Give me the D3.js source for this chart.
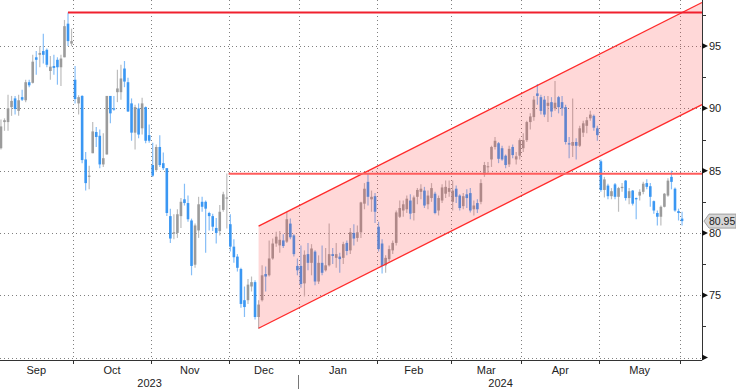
<!DOCTYPE html>
<html>
<head>
<meta charset="utf-8">
<script src="https://cdn.jsdelivr.net/npm/d3@7"></script>
<style>
  html, body { margin: 0; padding: 0; background: #fff; }
  svg { display: block; font-family: "Liberation Sans", Arial, sans-serif; }
</style>
</head>
<body>
<div id="wrap"></div>
<script>
// trading days: weekdays from firstDay to lastDay, minus exchange holidays
const firstDay = "2023-09-01";
const lastDay = "2024-06-03";
const holidays = ["2023-12-25", "2024-01-01", "2024-03-29"];

// daily OHLC, one value per trading day
const open = [
  86.8, 88.9, 88.9, 90.1, 90.8, 89.8, 90.9, 90.65, 92.1, 92.05, 94.1, 94.3, 94.6, 94.7, 93.0, 93.4, 93.9, 93.3, 94.1, 96.8, 95.2, // Sep
  92.3, 90.4, 91.0, 85.9, 84.5, 86.4, 88.1, 87.8, 85.5, 86.3, 91.0, 90.0, 91.3, 91.3, 93.2, 92.1, 90.4, 88.05, 90.0, 88.4, 90.1, 87.85, // Oct
  85.45, 85.05, 86.9, 85.6, 85.2, 81.35, 79.95, 80.0, 81.35, 82.7, 82.4, 81.0, 77.45, 80.2, 82.5, 82.5, 81.6, 81.35, 80.4, 80.15, 81.85, 82.75, // Nov
  80.7, 78.9, 78.1, 77.1, 74.6, 74.6, 75.7, 76.05, 73.25, 74.6, 76.7, 76.6, 77.95, 79.15, 79.0, 79.4, 79.3, 80.75, 79.8, 77.35, // Dec
  77.35, 75.95, 78.3, 77.6, 78.5, 76.1, 77.6, 77.0, 77.4, 78.3, 78.0, 78.1, 78.0, 79.2, 78.6, 80.0, 79.6, 80.05, 82.35, 84.1, 82.7, 82.95, // Jan
  80.5, 79.15, 77.4, 77.9, 78.6, 79.2, 81.3, 81.8, 81.9, 82.6, 81.6, 82.9, 83.3, 83.4, 82.3, 82.8, 83.15, 81.8, 82.6, 83.15, 83.3, // Feb
  82.5, 83.55, 83.0, 82.15, 83.1, 83.2, 81.9, 82.4, 82.5, 84.7, 85.3, 85.9, 86.9, 87.2, 86.8, 86.2, 85.5, 86.9, 85.9, 86.2, // Mar
  86.8, 87.45, 88.9, 89.3, 91.2, 90.9, 90.7, 90.2, 90.5, 90.0, 90.9, 90.5, 90.1, 87.2, 87.0, 87.3, 87.0, 88.05, 88.6, 89.2, 89.4, 88.4, // Apr
  85.75, 83.45, 83.8, 82.95, 83.9, 82.9, 83.6, 84.2, 82.8, 83.4, 82.8, 83.0, 83.3, 84.0, 83.75, 82.55, 81.6, 81.3, 82.1, 83.0, 84.5, 83.55, 81.75, // May
  81.15 // Jun
];
const high = [
  89.1, 89.2, 91.1, 91.0, 91.0, 91.1, 91.5, 92.3, 92.3, 94.3, 94.6, 95.0, 96.0, 94.8, 94.2, 94.3, 94.1, 94.3, 97.1, 97.7, 96.4,
  93.4, 91.05, 91.05, 86.5, 85.4, 88.9, 88.5, 88.3, 88.0, 91.0, 91.0, 91.0, 93.1, 93.5, 93.8, 92.45, 90.8, 90.3, 90.4, 90.85, 90.15, 88.7,
  87.25, 87.1, 87.85, 86.45, 85.2, 81.95, 81.5, 81.9, 82.8, 83.95, 83.0, 81.15, 80.75, 82.9, 82.9, 82.6, 81.7, 81.55, 81.2, 82.25, 83.3, 84.78,
  81.5, 79.5, 78.3, 77.2, 75.7, 76.3, 76.5, 76.2, 74.6, 77.4, 77.3, 79.4, 79.55, 80.1, 80.15, 79.9, 81.7, 81.15, 79.9, 77.95,
  79.0, 78.6, 79.2, 79.1, 78.6, 78.2, 79.0, 78.8, 80.75, 78.8, 79.2, 78.4, 79.3, 79.4, 80.4, 80.7, 80.6, 82.5, 84.0, 84.8, 83.4, 83.2,
  80.9, 79.5, 78.2, 79.0, 79.4, 81.8, 82.6, 82.6, 83.0, 83.1, 83.0, 83.6, 83.9, 83.7, 83.4, 84.0, 83.3, 83.0, 83.9, 84.2, 84.2,
  84.2, 83.8, 83.1, 83.2, 83.5, 83.6, 82.6, 82.7, 84.3, 85.7, 85.7, 87.0, 87.7, 87.3, 87.0, 86.3, 87.0, 87.1, 86.5, 87.6,
  88.0, 89.0, 89.6, 91.0, 91.95, 91.1, 91.0, 91.0, 90.9, 92.2, 91.0, 91.0, 90.3, 87.7, 90.8, 87.6, 88.6, 89.0, 89.3, 89.8, 89.5, 88.6,
  85.9, 84.5, 83.95, 83.6, 84.0, 83.7, 84.0, 84.25, 83.6, 83.45, 82.85, 83.5, 84.1, 84.3, 84.0, 82.6, 81.8, 82.2, 83.2, 84.4, 85.0, 83.65, 81.95,
  81.7
];
const low = [
  86.7, 88.2, 88.2, 89.4, 89.5, 89.4, 90.6, 90.5, 91.7, 92.0, 92.7, 93.3, 93.6, 93.3, 92.3, 92.7, 91.9, 91.8, 94.1, 95.0, 95.0,
  90.4, 89.5, 85.6, 83.4, 83.5, 86.4, 86.9, 85.2, 85.3, 86.3, 88.8, 89.8, 90.5, 90.7, 91.7, 89.7, 87.4, 86.7, 87.6, 87.9, 87.2, 87.25,
  84.5, 84.9, 85.3, 85.05, 81.35, 79.2, 79.5, 79.6, 80.4, 82.2, 80.9, 76.6, 77.2, 79.6, 81.7, 78.4, 80.2, 80.15, 79.15, 79.8, 81.7, 80.35,
  78.5, 77.6, 76.9, 74.0, 73.25, 74.3, 75.3, 73.05, 72.3, 74.5, 75.3, 76.5, 77.85, 78.9, 78.4, 78.8, 79.2, 79.5, 78.1, 76.6,
  75.6, 74.9, 77.0, 76.6, 75.8, 75.9, 76.6, 76.9, 77.3, 77.5, 77.2, 76.8, 77.5, 78.2, 78.3, 79.0, 79.3, 79.6, 81.9, 82.2, 81.7, 80.8,
  78.5, 76.75, 76.8, 77.7, 78.3, 79.0, 81.2, 81.3, 81.6, 81.1, 81.0, 82.3, 82.7, 82.0, 81.9, 82.5, 81.5, 81.4, 82.4, 82.8, 82.9,
  81.8, 82.4, 81.8, 81.9, 82.0, 81.65, 81.4, 81.6, 82.3, 84.5, 84.8, 85.3, 86.7, 85.6, 85.8, 85.2, 85.3, 86.0, 85.5, 85.9,
  86.5, 87.3, 88.3, 89.0, 90.3, 89.5, 89.3, 88.9, 89.3, 89.8, 89.6, 89.4, 87.1, 86.0, 86.1, 85.9, 86.9, 87.7, 88.0, 89.0, 88.2, 87.4,
  83.3, 82.85, 82.7, 82.7, 82.7, 81.7, 83.3, 82.6, 82.3, 82.2, 81.1, 82.6, 83.1, 83.5, 82.1, 81.55, 80.6, 80.6, 82.05, 82.9, 83.5, 81.7, 81.0,
  80.6
];
const close = [
  88.55, 89.05, 90.0, 90.6, 89.95, 90.65, 90.7, 92.1, 91.85, 93.75, 93.9, 94.45, 94.3, 93.5, 93.35, 93.25, 93.3, 94.0, 96.6, 95.4, 95.4,
  90.75, 90.9, 85.85, 84.0, 84.6, 88.15, 87.7, 85.5, 86.0, 91.0, 89.6, 89.9, 91.6, 92.4, 92.15, 89.75, 88.05, 90.1, 87.9, 90.4, 87.4, 87.4,
  84.6, 86.9, 85.45, 85.2, 81.6, 79.55, 80.05, 81.5, 82.5, 82.4, 81.1, 77.35, 80.6, 82.3, 82.1, 81.95, 81.35, 80.5, 80.0, 81.7, 83.1, 82.85,
  78.9, 78.05, 77.2, 74.3, 74.05, 75.85, 76.05, 73.25, 74.25, 76.6, 76.5, 77.95, 79.15, 79.7, 79.45, 78.95, 81.1, 79.65, 78.3, 77.0,
  75.9, 78.25, 77.6, 78.75, 76.1, 77.6, 76.8, 77.4, 78.3, 78.15, 78.3, 77.9, 79.1, 78.55, 80.05, 79.55, 80.05, 82.45, 83.55, 82.9, 82.9, 81.7,
  78.7, 77.35, 78.0, 78.7, 79.2, 81.65, 82.0, 82.3, 82.75, 81.55, 82.85, 83.45, 83.55, 82.2, 83.0, 83.6, 81.6, 82.8, 83.65, 83.7, 83.6,
  83.4, 82.9, 82.0, 82.95, 82.8, 81.8, 82.2, 81.9, 84.0, 85.45, 85.35, 86.9, 87.4, 85.95, 85.9, 85.45, 86.75, 86.25, 86.15, 87.45,
  87.45, 88.9, 89.35, 90.7, 91.0, 89.8, 89.5, 90.45, 89.75, 90.45, 90.1, 90.0, 87.3, 87.1, 87.3, 87.0, 88.4, 88.8, 89.05, 89.5, 88.45, 87.85,
  83.45, 84.3, 82.95, 83.35, 82.9, 83.6, 83.7, 82.8, 83.35, 82.35, 82.7, 83.3, 83.95, 83.7, 82.9, 81.8, 81.3, 82.1, 83.15, 84.2, 84.1, 81.8, 81.6,
  80.95
];

const yTicks = [75, 80, 85, 90, 95];
const yMinorTicks = [72.5, 77.5, 82.5, 87.5, 92.5, 97.5];
const lastPrice = 80.95;

// horizontal resistance lines: start (trading-day index) and level
const levelStart = [19.5, 65];
const levelValue = [97.7, 84.75];
// rising channel: two points (trading-day index) for the lower and upper edge
const channelX = [73.5, 199.15];
const channelLow = [72.35, 90.3];
const channelHigh = [80.55, 98.5];

const width = 736;
const height = 389;
const plotRight = 702;
const axisY = 360;

const parse = d3.timeParse("%Y-%m-%d");
const fmt = d3.timeFormat("%Y-%m-%d");
const days = d3.timeDay.range(parse(firstDay), d3.timeDay.offset(parse(lastDay), 1))
  .filter(d => d.getDay() % 6 !== 0 && !holidays.includes(fmt(d)));
const data = days.map((d, i) => ({ date: d, o: open[i], h: high[i], l: low[i], c: close[i] }));

let svg = d3.select("#wrap")
  .append("svg")
  .attr("width", width)
  .attr("height", height);

// x: trading-day index, y: price
const xScale = d3.scaleLinear().domain([0, 199.15]).range([-0.8, plotRight]);
const yScale = d3.scaleLinear().domain([70, 98.7]).range([357.5, 0]);

// month boundaries
let monthStart = [];
data.forEach((d, i) => {
  if (i > 0 && d.date.getMonth() !== data[i - 1].date.getMonth()) monthStart.push(i);
});

// grid
const grid = svg.append("g")
  .attr("stroke", "#808080")
  .attr("stroke-width", 1)
  .attr("stroke-dasharray", "1,3");
grid.selectAll("line.h")
  .data([70].concat(yTicks))
  .enter()
  .append("line")
  .attr("x1", 0)
  .attr("x2", plotRight)
  .attr("y1", d => Math.round(yScale(d)) + 0.5)
  .attr("y2", d => Math.round(yScale(d)) + 0.5);
grid.selectAll("line.v")
  .data(monthStart)
  .enter()
  .append("line")
  .attr("x1", d => Math.round(xScale(d)) + 0.5)
  .attr("x2", d => Math.round(xScale(d)) + 0.5)
  .attr("y1", 0)
  .attr("y2", axisY);

// candles
const upBody = "#9b9b9b", upWick = "#bdbdbd";
const downBody = "#3a97f3", downWick = "#86bef7";
const candles = svg.append("g");
candles.selectAll("line")
  .data(data)
  .enter()
  .append("line")
  .attr("x1", (d, i) => xScale(i + 0.5))
  .attr("x2", (d, i) => xScale(i + 0.5))
  .attr("y1", d => yScale(d.h))
  .attr("y2", d => yScale(d.l))
  .attr("stroke", d => d.c >= d.o ? upWick : downWick)
  .attr("stroke-width", 1.2);
candles.selectAll("rect")
  .data(data)
  .enter()
  .append("rect")
  .attr("x", (d, i) => xScale(i + 0.5) - 1.3)
  .attr("width", 2.6)
  .attr("y", d => yScale(Math.max(d.o, d.c)))
  .attr("height", d => Math.max(1, Math.abs(yScale(d.o) - yScale(d.c))))
  .attr("fill", d => d.c >= d.o ? upBody : downBody);

// channel, drawn over the candles
const lowPts = channelX.map((x, i) => [xScale(x), yScale(channelLow[i])]);
const highPts = channelX.map((x, i) => [xScale(x), yScale(channelHigh[i])]);
svg.append("path")
  .attr("d", d3.line()(lowPts.concat(highPts.slice().reverse())) + "Z")
  .attr("fill", "rgba(255,60,60,0.2)");
[lowPts, highPts].forEach(p => {
  svg.append("path")
    .attr("d", d3.line()(p))
    .attr("fill", "none")
    .attr("stroke", "#ff2a2a")
    .attr("stroke-width", 1.3);
});

// resistance levels
svg.selectAll("line.level")
  .data(levelValue)
  .enter()
  .append("line")
  .attr("x1", (d, i) => xScale(levelStart[i]))
  .attr("x2", plotRight)
  .attr("y1", d => yScale(d))
  .attr("y2", d => yScale(d))
  .attr("stroke", (d, i) => i === 0 ? "#f0202e" : "#ff5c5c")
  .attr("stroke-width", 2);

// right axis
const rightAxis = svg.append("g");
rightAxis.append("line")
  .attr("x1", plotRight + 0.5).attr("x2", plotRight + 0.5)
  .attr("y1", 0).attr("y2", axisY)
  .attr("stroke", "#333");
rightAxis.selectAll("path")
  .data([70].concat(yTicks))
  .enter()
  .append("path")
  .attr("d", d => {
    const y = yScale(d);
    return `M${plotRight},${y - 3}L${plotRight + 6},${y}L${plotRight},${y + 3}Z`;
  })
  .attr("fill", "#111");
rightAxis.selectAll("line.minor")
  .data(yMinorTicks)
  .enter()
  .append("line")
  .attr("x1", plotRight).attr("x2", plotRight + 4)
  .attr("y1", d => Math.round(yScale(d)) + 0.5)
  .attr("y2", d => Math.round(yScale(d)) + 0.5)
  .attr("stroke", "#333");
rightAxis.selectAll("text")
  .data(yTicks)
  .enter()
  .append("text")
  .attr("x", plotRight + 7)
  .attr("y", d => yScale(d) + 4)
  .attr("font-size", 11)
  .attr("fill", "#222")
  .text(d => d);

// last price tag
const ty = yScale(lastPrice);
svg.append("path")
  .attr("d", `M${plotRight + 2},${ty}L${plotRight + 7},${ty - 7}L${width},${ty - 7}L${width},${ty + 7}L${plotRight + 7},${ty + 7}Z`)
  .attr("fill", "#d6d6d6")
  .attr("stroke", "#a0a0a0");
svg.append("text")
  .attr("x", plotRight + 7)
  .attr("y", ty + 4)
  .attr("font-size", 10.5)
  .attr("fill", "#222")
  .text(lastPrice.toFixed(2));

// bottom axis
const bottom = svg.append("g");
bottom.append("line")
  .attr("x1", 0).attr("x2", plotRight)
  .attr("y1", axisY + 0.5).attr("y2", axisY + 0.5)
  .attr("stroke", "#333");
bottom.selectAll("line.tick")
  .data(monthStart)
  .enter()
  .append("line")
  .attr("x1", d => Math.round(xScale(d)) + 0.5)
  .attr("x2", d => Math.round(xScale(d)) + 0.5)
  .attr("y1", axisY).attr("y2", axisY + 4)
  .attr("stroke", "#333");
const bounds = [0].concat(monthStart);
const monthFmt = d3.timeFormat("%b");
bottom.selectAll("text.month")
  .data(bounds.slice(0, -1))
  .enter()
  .append("text")
  .attr("x", (d, i) => (xScale(d) + xScale(bounds[i + 1])) / 2)
  .attr("y", 374)
  .attr("text-anchor", "middle")
  .attr("font-size", 11)
  .attr("fill", "#222")
  .text(d => monthFmt(data[d].date));

// years
const yearStart = monthStart.find(i => data[i].date.getFullYear() === 2024);
const yearSpans = [[0, xScale(yearStart)], [xScale(yearStart), plotRight]];
bottom.selectAll("text.year")
  .data(yearSpans)
  .enter()
  .append("text")
  .attr("x", d => (d[0] + d[1]) / 2)
  .attr("y", 387)
  .attr("text-anchor", "middle")
  .attr("font-size", 11)
  .attr("fill", "#222")
  .text((d, i) => data[i === 0 ? 0 : yearStart].date.getFullYear());
bottom.append("line")
  .attr("x1", Math.round(xScale(yearStart)) - 0.5)
  .attr("x2", Math.round(xScale(yearStart)) - 0.5)
  .attr("y1", 375).attr("y2", height)
  .attr("stroke", "#777");
</script>
</body>
</html>
